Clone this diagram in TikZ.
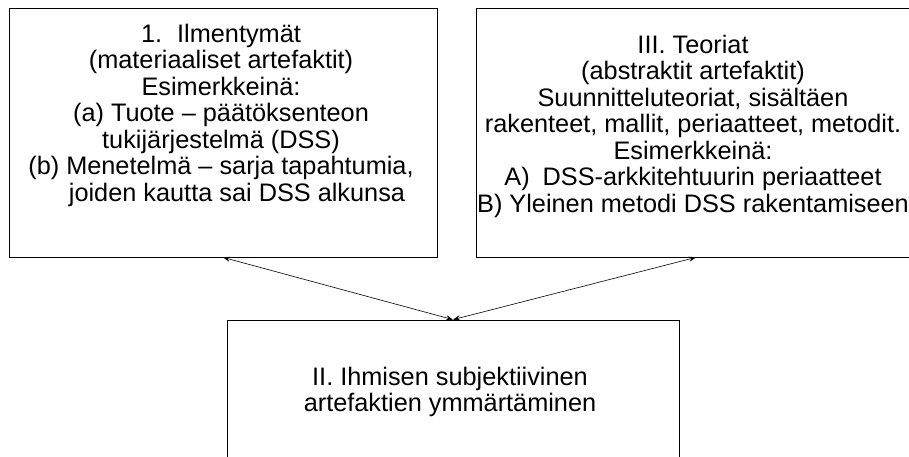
\documentclass[tikz,border=0pt]{standalone}
\usepackage{fontspec}
\setmainfont{Liberation Sans}
\usetikzlibrary{arrows.meta, positioning}

\begin{document}
\begin{tikzpicture}[x=1pt, y=-1pt,
  box/.style={draw, line width=0.75pt, inner sep=0pt},
  txt/.style={align=center, inner sep=0pt, font=\fontsize{25.3}{26.5}\selectfont},
  link/.style={{Stealth[length=7pt,width=5pt]}-{Stealth[length=7pt,width=5pt]}, line width=0.6pt}]
  \useasboundingbox (0,0) rectangle (909,457);
  \clip (0,0) rectangle (909,457);
  % boxes
  \node[box, minimum width=428pt, minimum height=249pt] (ilm) at (223,132.5) {};
  \node[box, minimum width=440pt, minimum height=249pt] (teo) at (696,132.5) {};
  \node[box, minimum width=452pt, minimum height=145pt] (ymm) at (453,392.5) {};
  % texts
  \node[txt, below=16pt of ilm.north, xshift=-2pt] (ilmtxt) {1.\hspace{15pt}Ilmentymät\\
    (materiaaliset artefaktit)\\
    Esimerkkeinä:\\
    (a) Tuote – päätöksenteon\\
    tukijärjestelmä (DSS)\\
    (b) Menetelmä – sarja tapahtumia,\\
    \hspace*{32pt}joiden kautta sai DSS alkunsa};
  \node[txt, below=27pt of teo.north, xshift=-3pt] (teotxt) {III. Teoriat\\
    (abstraktit artefaktit)\\
    Suunnitteluteoriat, sisältäen\\
    rakenteet, mallit, periaatteet, metodit.\\
    Esimerkkeinä:\\
    A)\hspace{6pt} DSS-arkkitehtuurin periaatteet\\
    B) Yleinen metodi DSS rakentamiseen};
  \node[txt, below=47pt of ymm.north, xshift=-3pt] (ymmtxt) {II. Ihmisen subjektiivinen\\
    artefaktien ymmärtäminen};
  % arrows
  \draw[link] (ilm.south) -- (ymm.north);
  \draw[link] (teo.south) -- (ymm.north);
\end{tikzpicture}
\end{document}
